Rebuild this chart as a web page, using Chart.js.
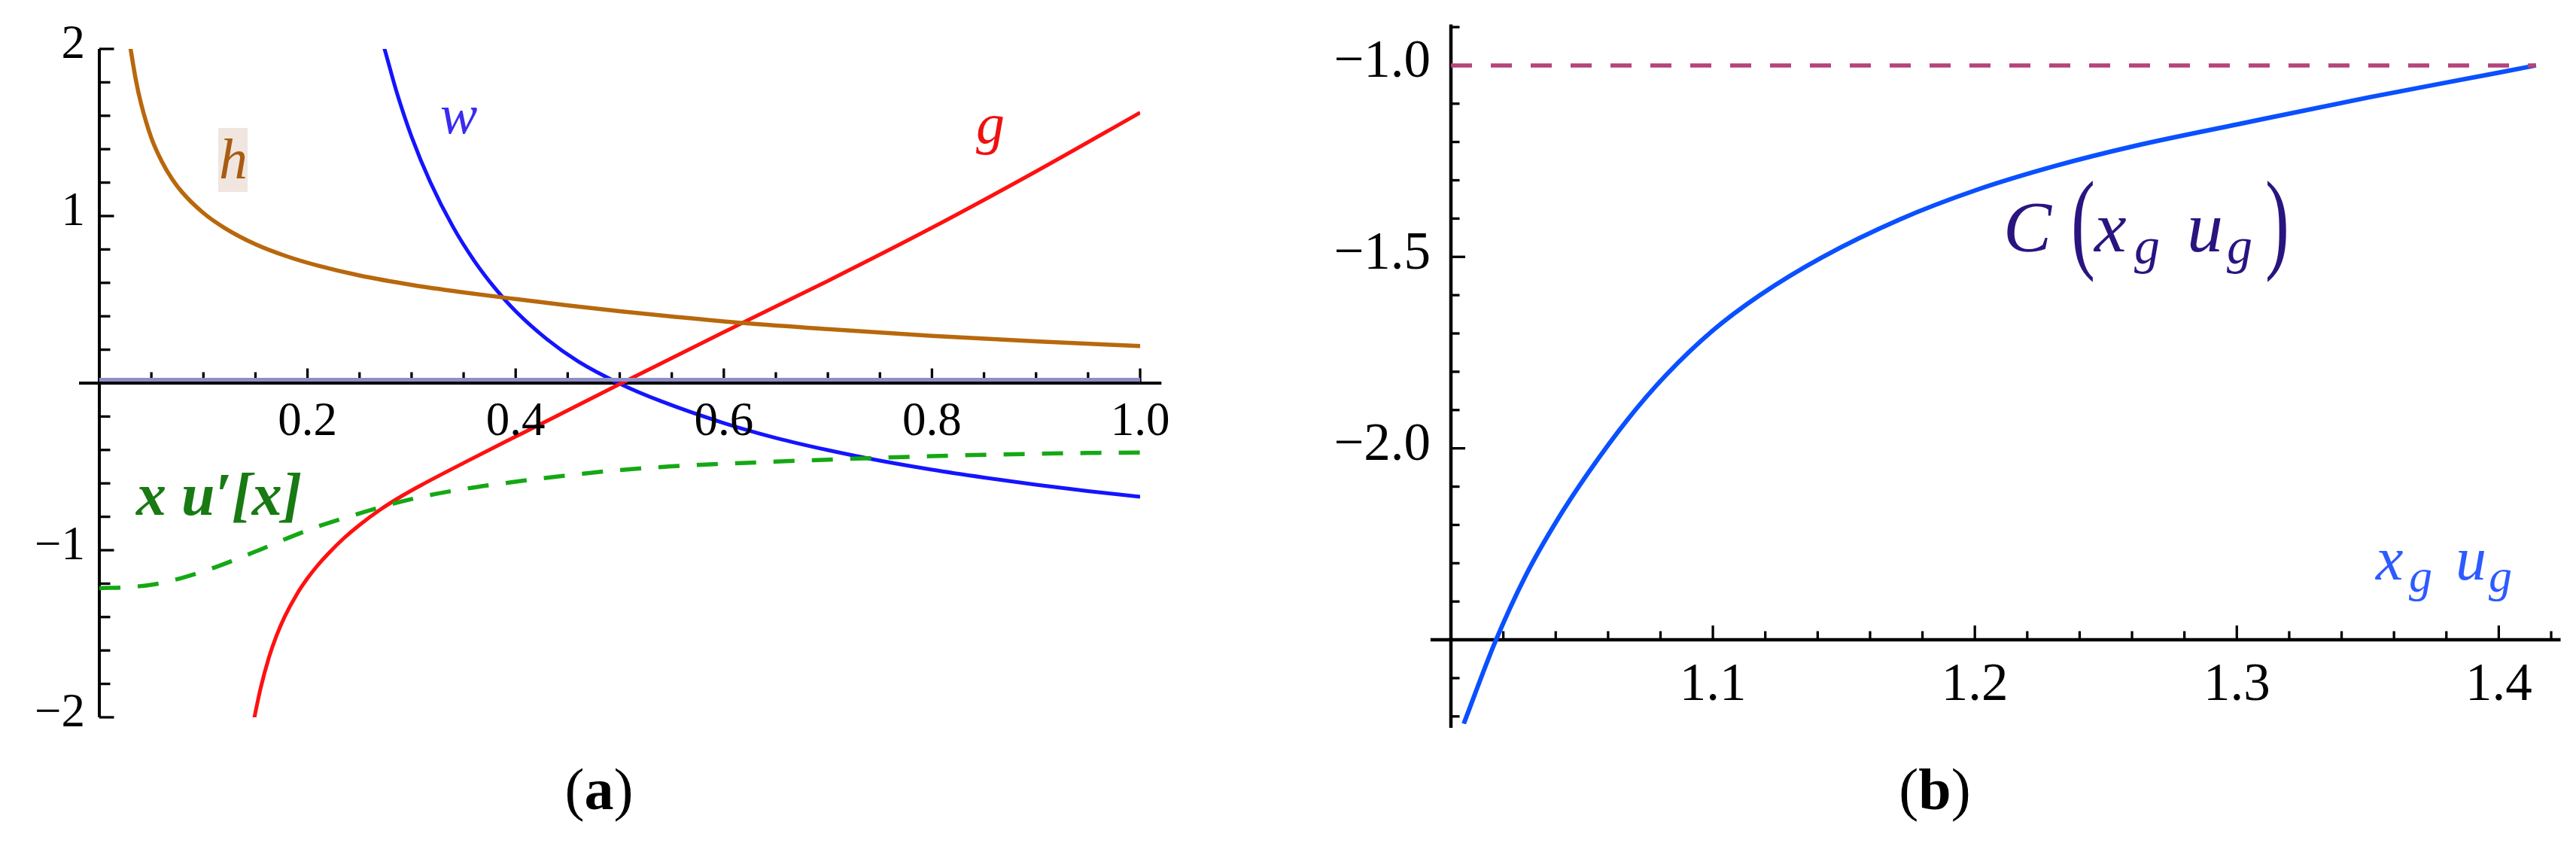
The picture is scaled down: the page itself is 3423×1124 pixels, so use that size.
<!DOCTYPE html>
<html><head><meta charset="utf-8">
<script src="https://cdn.jsdelivr.net/npm/chart.js@4/dist/chart.umd.min.js"></script>
<style>
html,body{margin:0;padding:0;background:#fff;width:3423px;height:1124px;overflow:hidden;position:relative;font-family:"Liberation Serif","Times New Roman",serif;}
.cv{position:absolute;top:0;}
.lbl{position:absolute;white-space:nowrap;line-height:1;font-family:"Liberation Serif","Times New Roman",serif;}
</style></head><body>
<canvas id="ca" class="cv" style="left:0" width="1700" height="1124"></canvas>
<canvas id="cb" class="cv" style="left:1700px" width="1723" height="1124"></canvas>
<script>
// ===== Panel (a) data =====
const hX = [0.0295,0.035,0.04,0.05,0.06,0.07,0.08,0.1,0.12,0.15,0.18,0.21,0.25,0.3,0.35,0.4,0.45,0.5,0.55,0.62,0.7,0.8,0.9,1.0];
const hY = [2.02,1.817,1.675,1.467,1.327,1.221,1.139,1.018,0.93,0.831,0.759,0.703,0.644,0.588,0.543,0.503,0.465,0.43,0.399,0.359,0.323,0.283,0.25,0.222];
const wX = [0.2725,0.274,0.285,0.3,0.318,0.34,0.36,0.38,0.4,0.43,0.46,0.5,0.54,0.6,0.65,0.7,0.75,0.8,0.85,0.9,0.95,1.0];
const wY = [2.03,2.0,1.756,1.475,1.203,0.933,0.734,0.569,0.43,0.263,0.13,-0.003,-0.109,-0.239,-0.328,-0.401,-0.464,-0.518,-0.565,-0.608,-0.646,-0.68];
const gX = [0.1485,0.15,0.155,0.163,0.17,0.178,0.19,0.2,0.21,0.22,0.235,0.25,0.27,0.29,0.31,0.35,0.392,0.421,0.45,0.5,0.55,0.6,0.62,0.7,0.8,0.9,1.0];
const gY = [-2.018,-1.97,-1.825,-1.641,-1.515,-1.399,-1.261,-1.168,-1.089,-1.02,-0.928,-0.849,-0.757,-0.678,-0.608,-0.478,-0.345,-0.255,-0.163,-0.006,0.15,0.305,0.367,0.612,0.93,1.267,1.619];
const uX = [0,0.026,0.052,0.08,0.11,0.15,0.18,0.21,0.25,0.28,0.31,0.35,0.39,0.42,0.46,0.5,0.55,0.6,0.65,0.7,0.75,0.8,0.85,0.9,0.95,1.0];
const uY = [-1.227,-1.222,-1.205,-1.165,-1.105,-1.008,-0.93,-0.858,-0.78,-0.725,-0.68,-0.634,-0.598,-0.574,-0.545,-0.52,-0.498,-0.483,-0.47,-0.458,-0.447,-0.437,-0.429,-0.423,-0.418,-0.415];
const zeroX = [0, 1];
const zeroY = [0.02, 0.02];
const aXMajor = [0.2,0.4,0.6,0.8,1.0];
const aXLabels = ["0.2","0.4","0.6","0.8","1.0"];
const aXMinor = [0.05,0.1,0.15,0.25,0.3,0.35,0.45,0.5,0.55,0.65,0.7,0.75,0.85,0.9,0.95];
const aYMajor = [-2,-1,1,2];
const aYLabels = ["\u22122","\u22121","1","2"];
const aYMinor = [-1.8,-1.6,-1.4,-1.2,-0.8,-0.6,-0.4,-0.2,0.2,0.4,0.6,0.8,1.2,1.4,1.6,1.8];

// ===== Panel (b) data =====
const cX = [1.0049,1.0168,1.0287,1.0405,1.0525,1.0674,1.0822,1.1,1.1179,1.1417,1.1714,1.2003,1.231,1.2606,1.3009,1.35,1.4,1.4142];
const cY = [-2.719,-2.507,-2.33,-2.188,-2.063,-1.925,-1.808,-1.692,-1.60,-1.501,-1.402,-1.326,-1.262,-1.211,-1.153,-1.084,-1.019,-1.0];
const limX = [1.0, 1.4142];
const limY = [-1.0, -1.0];
const bXMajor = [1.1,1.2,1.3,1.4];
const bXLabels = ["1.1","1.2","1.3","1.4"];
const bXMinor = [1.02,1.04,1.06,1.08,1.12,1.14,1.16,1.18,1.22,1.24,1.26,1.28,1.32,1.34,1.36,1.38,1.42];
const bYMajor = [-1.0,-1.5,-2.0];
const bYLabels = ["\u22121.0","\u22121.5","\u22122.0"];
const bYMinor = [-0.9,-1.1,-1.2,-1.3,-1.4,-1.6,-1.7,-1.8,-1.9,-2.1,-2.2,-2.3,-2.4,-2.5,-2.6,-2.7];

const zip = (xs, ys) => xs.map((x, i) => ({x: x, y: ys[i]}));

// HTML text helper: left edge (or anchor) and baseline in page pixels
function put(html, left, baseline, size, css) {
  const d = document.createElement('div');
  d.className = 'lbl';
  d.innerHTML = html;
  d.style.fontSize = size + 'px';
  d.style.left = left + 'px';
  d.style.top = (baseline - 0.8375 * size) + 'px';
  Object.assign(d.style, css || {});
  document.body.appendChild(d);
  return d;
}

const mmaAxes = {
  id: 'mmaAxes',
  beforeDatasetsDraw(chart, args, o) {
    const ctx = chart.ctx, xs = chart.scales.x, ys = chart.scales.y;
    const X = v => xs.getPixelForValue(v), Y = v => ys.getPixelForValue(v);
    const y0 = Y(o.xAxisAt), x0 = X(o.yAxisAt);
    ctx.save();
    ctx.strokeStyle = '#000';
    ctx.lineWidth = o.axisWidth;
    ctx.beginPath(); ctx.moveTo(X(o.xFrom), y0); ctx.lineTo(X(o.xTo), y0); ctx.stroke();
    ctx.beginPath(); ctx.moveTo(x0, Y(o.yFrom)); ctx.lineTo(x0, Y(o.yTo)); ctx.stroke();
    ctx.lineWidth = o.tickWidth;
    const tick = (xa, ya, xb, yb) => { ctx.beginPath(); ctx.moveTo(xa, ya); ctx.lineTo(xb, yb); ctx.stroke(); };
    o.xMajor.forEach(v => tick(X(v), y0, X(v), y0 - o.major));
    o.xMinor.forEach(v => tick(X(v), y0, X(v), y0 - o.minor));
    o.yMajor.forEach(v => tick(x0, Y(v), x0 + o.major, Y(v)));
    o.yMinor.forEach(v => tick(x0, Y(v), x0 + o.minor, Y(v)));
    ctx.restore();
  },
  afterRender(chart, args, o) {
    if (chart.$labelsDone) return;
    chart.$labelsDone = true;
    const xs = chart.scales.x, ys = chart.scales.y;
    const X = v => xs.getPixelForValue(v), Y = v => ys.getPixelForValue(v);
    const y0 = Y(o.xAxisAt), x0 = X(o.yAxisAt);
    const off = o.offsetX;
    o.xMajor.forEach((v, i) => put(o.xLabels[i], off + X(v), y0 + o.xGap, o.size, {transform: 'translateX(-50%)', color: '#000'}));
    o.yMajor.forEach((v, i) => put(o.yLabels[i], off + x0 - o.yGap, Y(v) + o.yShift, o.size, {transform: 'translateX(-100%)', color: '#000'}));
  }
};

const lineDs = (data, color, width, dash) => ({
  data: data, showLine: true, borderColor: color, borderWidth: width,
  borderDash: dash || [], pointRadius: 0, fill: false,
  cubicInterpolationMode: 'monotone', borderCapStyle: 'butt'
});

const common = {
  responsive: false, animation: false, events: [],
  plugins: { legend: {display: false}, tooltip: {enabled: false} }
};

new Chart(document.getElementById('ca'), {
  type: 'scatter',
  data: { datasets: [
    lineDs(zip(zeroX, zeroY), '#8e8ec6', 5),
    lineDs(zip(hX, hY), '#b8680c', 5.5),
    lineDs(zip(uX, uY), '#14a814', 5.5, [28, 23]),
    lineDs(zip(gX, gY), '#ff1010', 5),
    lineDs(zip(wX, wY), '#1414ff', 5)
  ]},
  options: Object.assign({}, common, {
    layout: { padding: {left: 132, right: 185, top: 65, bottom: 171} },
    scales: {
      x: {type: 'linear', min: 0, max: 1, display: false},
      y: {type: 'linear', min: -2, max: 2, display: false}
    },
    plugins: Object.assign({}, common.plugins, { mmaAxes: {
      xAxisAt: 0, yAxisAt: 0, xFrom: -0.0195, xTo: 1.0205, yFrom: 2, yTo: -2,
      axisWidth: 4, tickWidth: 3.3, major: 19.5, minor: 14.5,
      xMajor: aXMajor, xLabels: aXLabels, xMinor: aXMinor,
      yMajor: aYMajor, yLabels: aYLabels, yMinor: aYMinor,
      size: 63, xGap: 70, yGap: 19, yShift: 13, offsetX: 0
    }})
  }),
  plugins: [mmaAxes]
});

new Chart(document.getElementById('cb'), {
  type: 'scatter',
  data: { datasets: [
    lineDs(zip(limX, limY), '#b4447a', 5.5, [28, 25]),
    lineDs(zip(cX, cY), '#0a50ff', 6)
  ]},
  options: Object.assign({}, common, {
    layout: { padding: {left: 228, right: 33, top: 36, bottom: 162} },
    scales: {
      x: {type: 'linear', min: 1.0, max: 1.42, display: false},
      y: {type: 'linear', min: -2.72, max: -0.9, display: false}
    },
    plugins: Object.assign({}, common.plugins, { mmaAxes: {
      xAxisAt: -2.5, yAxisAt: 1.0, xFrom: 0.9922, xTo: 1.4236, yFrom: -0.893, yTo: -2.73,
      axisWidth: 4.5, tickWidth: 3.3, major: 19, minor: 11.5,
      xMajor: bXMajor, xLabels: bXLabels, xMinor: bXMinor,
      yMajor: bYMajor, yLabels: bYLabels, yMinor: bYMinor,
      size: 71, xGap: 80, yGap: 27, yShift: 16, offsetX: 1700
    }})
  }),
  plugins: [mmaAxes]
});

// ===== Curve labels (HTML) =====
const box = document.createElement('div');
Object.assign(box.style, {position:'absolute', left:'290px', top:'170px', width:'39px', height:'85px', background:'#f0e6df'});
document.body.appendChild(box);
put('h', 291, 237, 76, {fontStyle:'italic', color:'#a85c12'});
put('w', 585, 177, 74, {fontStyle:'italic', color:'#3b2bf0'});
put('g', 1297, 190, 76, {fontStyle:'italic', color:'#f01010'});
put('x u\u2032[x]', 181, 684, 80, {fontStyle:'italic', fontWeight:'bold', color:'#187a12'});

const cc = '#2a1480';
put('C', 2662, 334, 96, {fontStyle:'italic', color:cc});
put('(', 2752, 330, 96, {color:cc, transform:'scaleY(1.54)', transformOrigin:'50% 58%'});
put('x', 2783, 334, 96, {fontStyle:'italic', color:cc});
put('g', 2836, 350, 68, {fontStyle:'italic', color:cc});
put('u', 2906, 334, 96, {fontStyle:'italic', color:cc});
put('g', 2959, 350, 68, {fontStyle:'italic', color:cc});
put(')', 3010, 330, 96, {color:cc, transform:'scaleY(1.54)', transformOrigin:'50% 58%'});

const xc = '#2d5bff';
put('x', 3157, 771, 82, {fontStyle:'italic', color:xc});
put('g', 3201, 786, 62, {fontStyle:'italic', color:xc});
put('u', 3263, 771, 82, {fontStyle:'italic', color:xc});
put('g', 3307, 786, 62, {fontStyle:'italic', color:xc});

put('(<b>a</b>)', 796, 1075, 78, {transform:'translateX(-50%)', color:'#000'});
put('(<b>b</b>)', 2571, 1075, 78, {transform:'translateX(-50%)', color:'#000'});
</script>
</body></html>
